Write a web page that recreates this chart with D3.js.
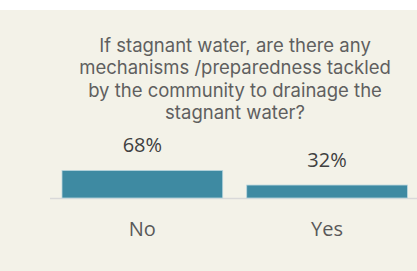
<!DOCTYPE html>
<meta charset="utf-8">
<style>
    body { margin: 0; background: #ffffff; }
    .axis path, .axis line { display: none; }
</style>
<svg width="417" height="271"></svg>
<script src="https://d3js.org/d3.v7.min.js"></script>
<script>

    var categories = ["No", "Yes"];
    var values = [68, 32];
    var valueLabels = ["68%", "32%"];
    var titleLines = [
        "If stagnant water, are there any",
        "mechanisms /preparedness tackled",
        "by the community to drainage the",
        "stagnant water?"
    ];

    var data = categories.map(function (c, i) {
        return { cat: c, value: values[i], label: valueLabels[i] };
    });

    var svg = d3.select("svg"),
        width = +svg.attr("width"),
        height = +svg.attr("height");

    // beige panel, white strip on top
    svg.append("rect")
        .attr("x", 0).attr("y", 10)
        .attr("width", width).attr("height", height - 10)
        .attr("fill", "#f3f2e8");

    var title = svg.append("text")
        .attr("x", 235)
        .attr("y", 52)
        .attr("text-anchor", "middle")
        .style("font-family", "Inter, sans-serif")
        .style("font-size", "18.5px")
        .attr("fill", "#5f5f5f");

    title.selectAll("tspan")
        .data(titleLines)
        .enter().append("tspan")
        .attr("x", 235)
        .attr("dy", function (d, i) { return i === 0 ? 0 : 22.3; })
        .text(function (d) { return d; });

    var baseY = 198;

    var x = d3.scaleBand()
        .domain(categories)
        .range([50, 419.4])
        .paddingInner(0.13)
        .paddingOuter(0.065);

    var y = d3.scaleLinear()
        .domain([0, 100])
        .range([baseY, baseY - 40.5]);

    // baseline
    svg.append("line")
        .attr("x1", 50).attr("x2", width)
        .attr("y1", baseY + 0.5).attr("y2", baseY + 0.5)
        .attr("stroke", "#d9d9d9")
        .attr("stroke-width", 1.5);

    svg.selectAll(".bar")
        .data(data)
        .enter().append("rect")
        .attr("class", "bar")
        .attr("x", function (d) { return x(d.cat); })
        .attr("y", function (d) { return y(d.value); })
        .attr("width", x.bandwidth())
        .attr("height", function (d) { return baseY - y(d.value); })
        .attr("fill", "#3e8aa2")
        .attr("stroke", "#b9d6df")
        .attr("stroke-width", 0.8);

    svg.selectAll(".label")
        .data(data)
        .enter().append("text")
        .attr("class", "label")
        .attr("x", function (d) { return x(d.cat) + x.bandwidth() / 2; })
        .attr("y", function (d) { return y(d.value) - 18.5; })
        .attr("text-anchor", "middle")
        .style("font-family", "'Open Sans', sans-serif")
        .style("font-size", "20px")
        .attr("fill", "#404040")
        .text(function (d) { return d.label; });

    var xAxis = d3.axisBottom(x).tickSize(0).tickPadding(0);

    svg.append("g")
        .attr("class", "axis")
        .attr("transform", "translate(0," + baseY + ")")
        .call(xAxis)
        .selectAll("text")
        .attr("dy", 0)
        .attr("y", 38.3)
        .style("font-family", "'Open Sans', sans-serif")
        .style("font-size", "20px")
        .attr("fill", "#595959");

</script>
